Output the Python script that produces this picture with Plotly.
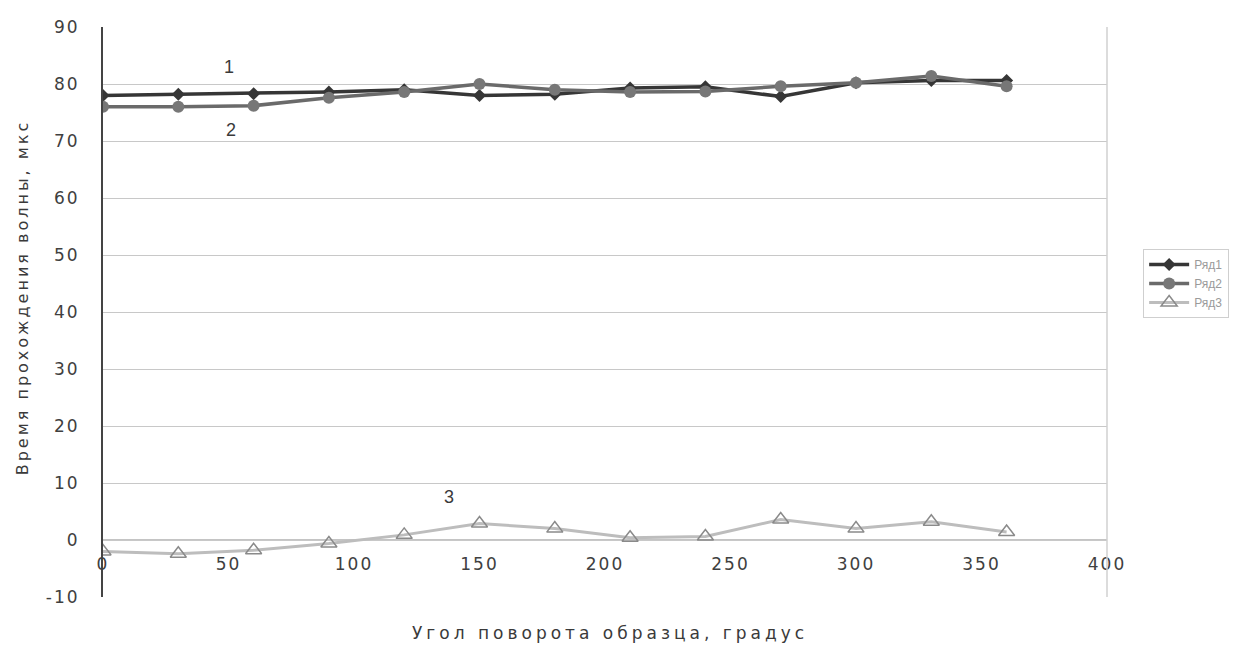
import plotly.graph_objects as go

angles = [0, 30, 60, 90, 120, 150, 180, 210, 240, 270, 300, 330, 360]
series1 = [78, 78.2, 78.3, 78.6, 79, 78, 78.2, 79.3, 79.5, 77.8, 80.2, 80.6, 80.6]
series2 = [76, 76, 76.2, 77.6, 78.6, 80, 79, 78.6, 78.7, 79.6, 80.2, 81.4, 79.6]
series3 = [-2, -2.4, -1.8, -0.6, 0.9, 2.9, 2.0, 0.4, 0.6, 3.6, 2.0, 3.2, 1.4]
names = ["Ряд1", "Ряд2", "Ряд3"]
y_ticks = [-10, 0, 10, 20, 30, 40, 50, 60, 70, 80, 90]
x_ticks = [0, 50, 100, 150, 200, 250, 300, 350, 400]
curve_labels = ["1", "2", "3"]
label_x = [50, 51, 138]
label_y = [83, 72, 7.5]
x_title = "Угол поворота образца, градус"
y_title = "Время прохождения волны, мкс"


def spaced(s, px):
    return f'<span style="letter-spacing:{px}px">{s}</span>'


fig = go.Figure()
fig.add_trace(go.Scatter(x=angles, y=series1, name=names[0], mode="lines+markers",
                         line=dict(color="#363636", width=3.5),
                         marker=dict(symbol="diamond", size=10, color="#363636")))
fig.add_trace(go.Scatter(x=angles, y=series2, name=names[1], mode="lines+markers",
                         line=dict(color="#6a6a6a", width=3.5),
                         marker=dict(symbol="circle", size=12, color="#777777")))
fig.add_trace(go.Scatter(x=angles, y=series3, name=names[2], mode="lines+markers",
                         line=dict(color="#bdbdbd", width=3),
                         marker=dict(symbol="triangle-up-open", size=14,
                                     color="#8a8a8a", line=dict(width=1.5))))

for t, xx, yy in zip(curve_labels, label_x, label_y):
    fig.add_annotation(x=xx, y=yy, text=t, showarrow=False,
                       font=dict(family="Liberation Sans", size=18, color="#3a3a3a"))

fig.add_annotation(xref="paper", yref="paper", x=0.505, y=-0.063, yanchor="middle",
                   text=spaced(x_title, 4), showarrow=False,
                   font=dict(family="DejaVu Sans", size=17, color="#3a3a3a"))
fig.add_annotation(xref="paper", yref="paper", x=-0.092, y=0.526, textangle=-90,
                   text=spaced(y_title, 3), showarrow=False,
                   font=dict(family="DejaVu Sans", size=16, color="#3a3a3a"))

fig.update_layout(
    width=1242, height=648,
    paper_bgcolor="white", plot_bgcolor="white",
    margin=dict(l=95, r=143, t=19, b=59),
    font=dict(family="Liberation Sans", color="#505050"),
    showlegend=True,
    legend=dict(x=1.036, y=0.55, xanchor="left", yanchor="middle",
                bordercolor="#cfcfcf", borderwidth=1,
                font=dict(size=12, color="#9a9a9a"),
                itemwidth=40, tracegroupgap=6),
    xaxis=dict(range=[0, 400], tickvals=x_ticks,
               ticktext=[spaced(str(v), 2) for v in x_ticks],
               showgrid=False, zeroline=False,
               anchor="free", position=0.1, showline=False, ticks="",
               automargin=False, ticklabelstandoff=12,
               tickfont=dict(family="DejaVu Sans", size=17, color="#404040")),
    yaxis=dict(range=[-10, 90], tickvals=y_ticks,
               ticktext=[spaced(str(v), 2) for v in y_ticks],
               showgrid=True,
               gridcolor="#c8c8c8", gridwidth=1.2, zeroline=False,
               showline=True, linecolor="#444444", linewidth=2, ticks="",
               automargin=False, ticklabelstandoff=18,
               tickfont=dict(family="DejaVu Sans", size=17, color="#404040")),
)
fig.add_shape(type="line", xref="x", yref="y", x0=0, x1=400, y0=0, y1=0,
              line=dict(color="#b0b0b0", width=1.5), layer="below")
fig.add_shape(type="line", xref="paper", yref="paper", x0=1, x1=1, y0=0, y1=1,
              line=dict(color="#d0d0d0", width=1.5))

fig.write_html("out.html")
